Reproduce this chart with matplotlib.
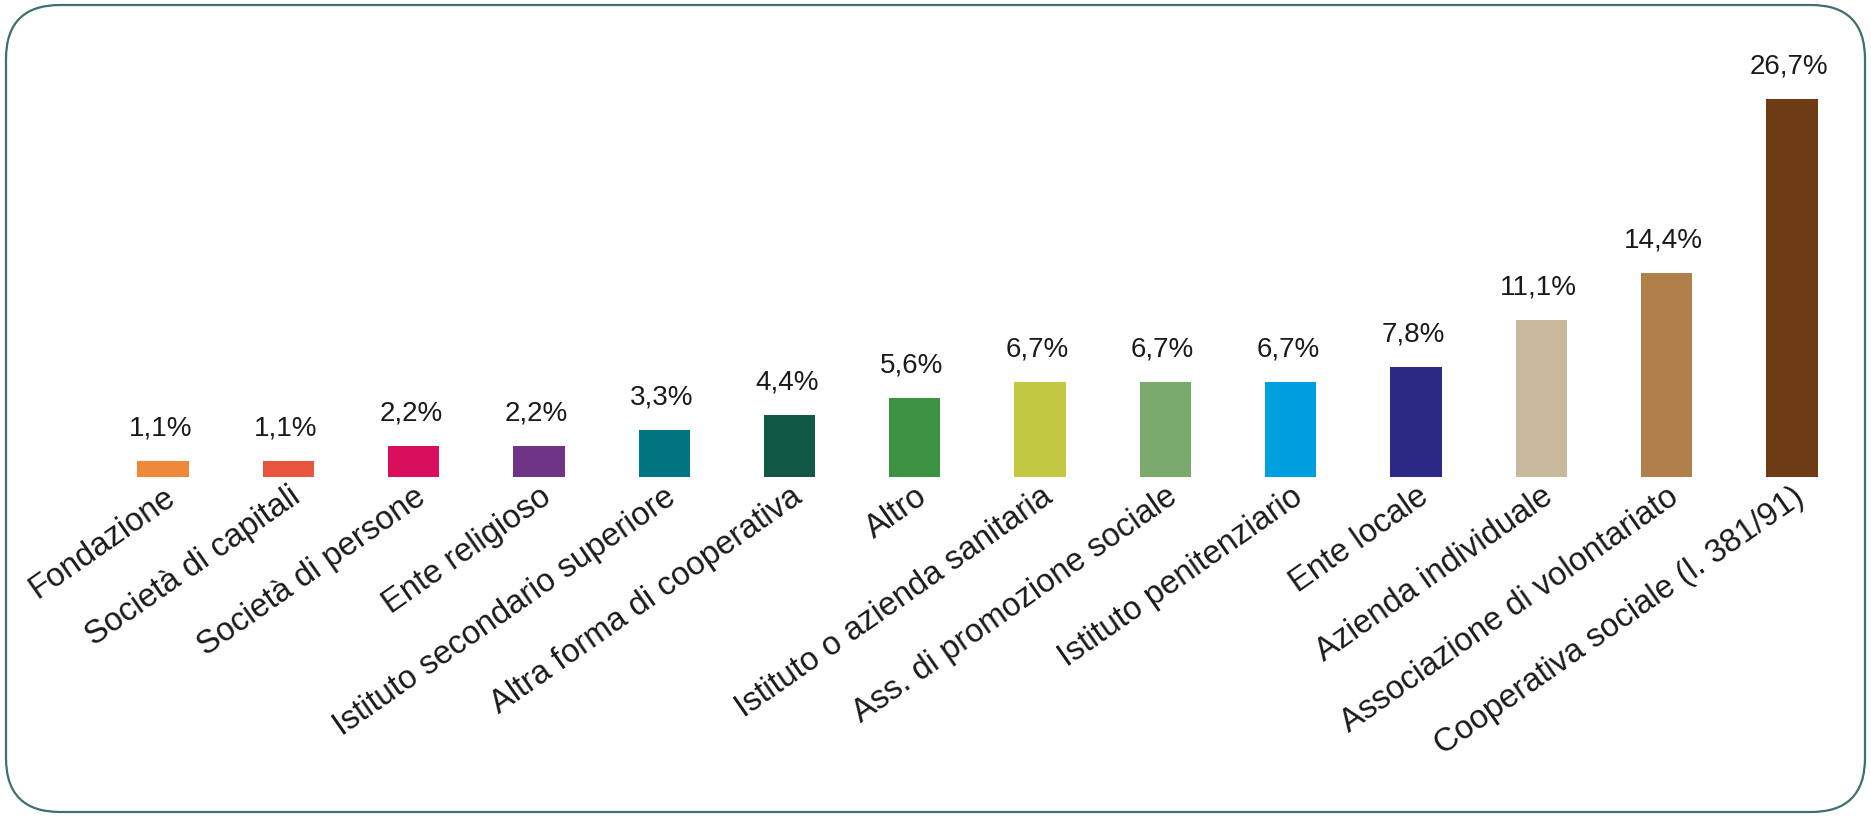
import matplotlib.pyplot as plt
import matplotlib.transforms as mtransforms
from matplotlib.patches import FancyBboxPatch

categorie = ['Fondazione', 'Società di capitali', 'Società di persone', 'Ente religioso',
             'Istituto secondario superiore', 'Altra forma di cooperativa', 'Altro',
             'Istituto o azienda sanitaria', 'Ass. di promozione sociale',
             'Istituto penitenziario', 'Ente locale', 'Azienda individuale',
             'Associazione di volontariato', 'Cooperativa sociale (l. 381/91)']
valori = [1.1, 1.1, 2.2, 2.2, 3.3, 4.4, 5.6, 6.7, 6.7, 6.7, 7.8, 11.1, 14.4, 26.7]
colori = ['#f0883a', '#e8553e', '#d90f5e', '#6e3586', '#007582', '#115845', '#3d9142',
          '#c3c842', '#7aab6c', '#009fe0', '#2c2a84', '#c8b89c', '#b07f4a', '#6b3c15']

plt.rcParams['font.family'] = ['Liberation Sans', 'DejaVu Sans']

W, H = 1871, 817
fig = plt.figure(figsize=(W / 100, H / 100), dpi=100)

# asse: baseline delle barre a 477 px dall'alto
base = 477
ax = fig.add_axes([0, (H - base) / H, 1, base / H])
px_per_bar = 125.3
x0 = 163
ax.set_xlim(-x0 / px_per_bar, (W - x0) / px_per_bar)
px_per_pct = 14.16
ax.set_ylim(0, base / px_per_pct)

pos = list(range(len(valori)))
ax.bar(pos, valori, width=0.41, color=colori)

for p, v in zip(pos, valori):
    ax.annotate(f'{v:.1f}%'.replace('.', ','), (p, v), xytext=(-2, 14),
                textcoords='offset points', ha='center', va='bottom',
                fontsize=20, color='#1a1a1a')

ax.set_xticks(pos)
ax.set_xticklabels(categorie, rotation=35, ha='right', rotation_mode='anchor',
                   fontsize=23.5, color='#1a1a1a')
off = mtransforms.ScaledTranslation(24 / 100, 0, fig.dpi_scale_trans)
for lab in ax.get_xticklabels():
    lab.set_transform(lab.get_transform() + off)
ax.tick_params(axis='x', length=0, pad=3)
ax.set_yticks([])
for s in ax.spines.values():
    s.set_visible(False)
ax.patch.set_alpha(0)

# cornice arrotondata
r = 54
box = FancyBboxPatch((6 + r, 5 + r), W - 12 - 2 * r, H - 10 - 2 * r,
                     boxstyle=f'round,pad={r}', transform=None,
                     facecolor='none', edgecolor='#3f6f70', linewidth=1.6)
fig.patches.append(box)

fig.savefig('out.png', dpi=100)
